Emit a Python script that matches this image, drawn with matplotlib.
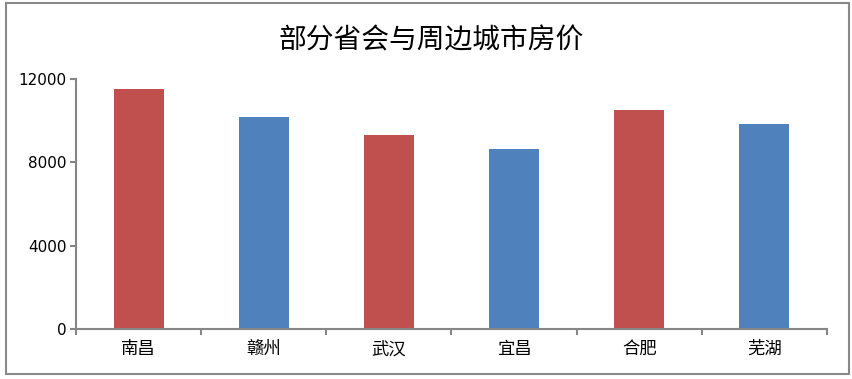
import numpy as np
import matplotlib
matplotlib.use("Agg")
from matplotlib import pyplot as plt
from matplotlib.patches import Rectangle

plt.rcParams['font.family'] = ['Noto Sans CJK SC', 'DejaVu Sans']

cities = ['南昌', '赣州', '武汉', '宜昌', '合肥', '芜湖']
prices = [11500, 10200, 9300, 8650, 10500, 9850]
colors = ['#C0504D', '#4F81BD', '#C0504D', '#4F81BD', '#C0504D', '#4F81BD']
yticks = [0, 4000, 8000, 12000]

fig = plt.figure(figsize=(8.53, 3.79), dpi=100)
ax = fig.add_axes([76/853, 1-329/379, (827-76)/853, (329-79)/379])

x = np.arange(len(cities))
ax.bar(x, prices, width=0.4, color=colors, zorder=2)

ax.set_xlim(-0.5, len(cities) - 0.5)
ax.set_ylim(0, 12000)
ax.set_yticks(yticks)
ax.set_yticklabels([str(v) for v in yticks], family='DejaVu Sans', fontsize=11)
ax.set_xticks(x)
ax.set_xticklabels(cities, fontsize=12.5)
ax.set_xticks(np.arange(len(cities) + 1) - 0.5, minor=True)

axcol = '#868686'
for s in ['top', 'right']:
    ax.spines[s].set_visible(False)
for s in ['left', 'bottom']:
    ax.spines[s].set_color(axcol)
    ax.spines[s].set_linewidth(1.5)
ax.tick_params(axis='x', which='major', length=0, pad=8)
ax.tick_params(axis='x', which='minor', length=4, width=1.5, color=axcol)
ax.tick_params(axis='y', length=4, width=1.5, color=axcol, pad=3)

fig.text(0.505, 1-40/379, '部分省会与周边城市房价', ha='center', va='center', fontsize=20)

# outer chart border
fig.patches.append(Rectangle((6/853, 1-374/379), (849-6)/853, (374-3)/379,
                             transform=fig.transFigure, fill=False,
                             edgecolor='#898989', linewidth=1.5))

fig.savefig('out.png', dpi=100)
